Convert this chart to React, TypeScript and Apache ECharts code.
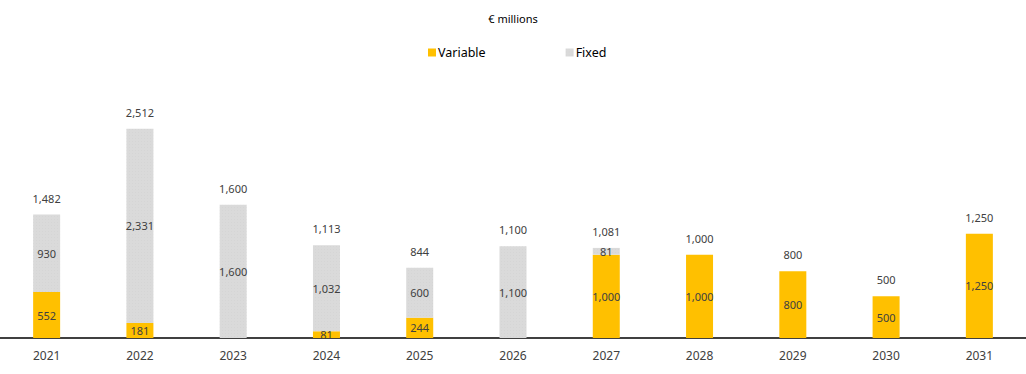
import React, { useEffect, useRef } from "react";
import * as echarts from "echarts";

const years = ["2021", "2022", "2023", "2024", "2025", "2026", "2027", "2028", "2029", "2030", "2031"];
const variableValues = [552, 181, 0, 81, 244, 0, 1000, 1000, 800, 500, 1250];
const fixedValues = [930, 2331, 1600, 1032, 600, 1100, 81, 0, 0, 0, 0];
const totalValues = [1482, 2512, 1600, 1113, 844, 1100, 1081, 1000, 800, 500, 1250];

const FONT = "'Noto Sans', sans-serif";
const fmt = (v: number) => v.toLocaleString("en-US");

export default function App() {
  const ref = useRef<HTMLDivElement>(null);
  useEffect(() => {
    if (!ref.current) return;
    const chart = echarts.init(ref.current, null, { renderer: "svg" });
    const segLabel = {
      show: true,
      position: "inside",
      fontSize: 11,
      fontFamily: FONT,
      color: "#404040",
      formatter: (p: any) => (p.value ? fmt(p.value) : ""),
    };
    chart.setOption({
      animation: false,
      title: {
        text: "€ millions",
        left: "center",
        top: 8,
        textStyle: { fontSize: 11, fontWeight: "normal", fontFamily: FONT, color: "#000" },
      },
      legend: {
        top: 41,
        left: 423,
        itemWidth: 8,
        itemHeight: 8,
        itemGap: 80,
        icon: "rect",
        textStyle: { fontSize: 12.5, fontFamily: FONT, color: "#000", padding: [0, 0, 0, -3] },
        data: ["Variable", "Fixed"],
      },
      grid: { left: 0, right: 0, top: 88, bottom: 36, containLabel: false },
      xAxis: {
        type: "category",
        data: years,
        axisLine: { lineStyle: { color: "#000", width: 1.5 } },
        axisTick: { show: false },
        axisLabel: { fontSize: 12, fontFamily: FONT, color: "#404040", margin: 11 },
      },
      yAxis: { type: "value", min: 0, max: 3000, show: false, splitLine: { show: false } },
      series: [
        {
          name: "Variable",
          type: "bar",
          stack: "s",
          data: variableValues,
          barWidth: 27,
          itemStyle: { color: "#FFC000" },
          label: segLabel,
        },
        {
          name: "Fixed",
          type: "bar",
          stack: "s",
          data: fixedValues,
          barWidth: 27,
          itemStyle: {
            color: "#DADADA",
            decal: {
              symbol: "rect",
              symbolSize: 0.5,
              dashArrayX: [1, 2],
              dashArrayY: [1, 2],
              color: "rgba(170,170,170,0.5)",
              rotation: 0,
            },
          },
          label: segLabel,
        },
        {
          name: "Total",
          type: "bar",
          data: totalValues,
          barWidth: 27,
          barGap: "-100%",
          itemStyle: { color: "transparent" },
          z: 0,
          label: {
            show: true,
            position: "top",
            distance: 11,
            fontSize: 11,
            fontFamily: FONT,
            color: "#404040",
            formatter: (p: any) => fmt(p.value),
          },
          silent: true,
        },
      ],
    });
    return () => chart.dispose();
  }, []);
  return (
    <div
      ref={ref}
      style={{ position: "fixed", left: 0, top: 0, width: 1026, height: 374, background: "#fff" }}
    />
  );
}
